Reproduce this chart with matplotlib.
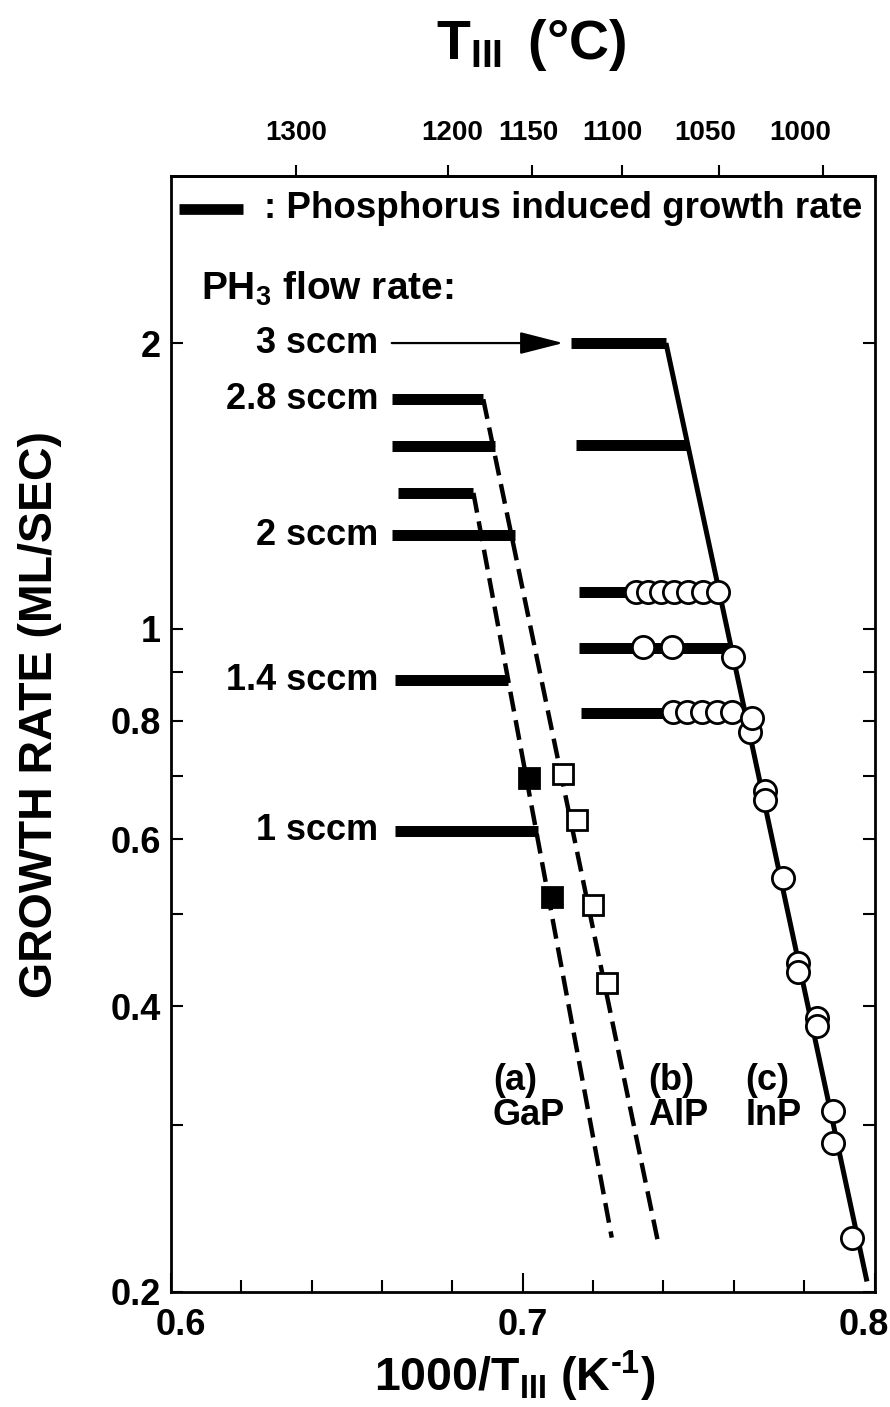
import numpy as np
import matplotlib
matplotlib.use("Agg")
import matplotlib.pyplot as plt
from matplotlib.patches import ArrowStyle
from matplotlib.ticker import NullFormatter, NullLocator
from matplotlib.transforms import ScaledTranslation


# growth rate (ML/s), x = 1000/T_III (1/K)
# phosphorus-limited plateaus, left group (GaP / AlP)
gap_bar_y = [1.39, 0.882, 0.612]
gap_bar_x0 = [0.6647, 0.6638, 0.6638]
gap_bar_x1 = [0.6860, 0.6959, 0.7044]
alp_bar_y = [1.745, 1.559, 1.254]
alp_bar_x0 = [0.6628, 0.6629, 0.6628]
alp_bar_x1 = [0.6888, 0.6921, 0.6978]

# right group (InP)
inp_bar_y = [2.0, 1.56, 1.093, 0.953, 0.814]
inp_bar_x0 = [0.7136, 0.7151, 0.7161, 0.7161, 0.7166]
inp_bar_x1 = [0.7407, 0.7467, 0.7557, 0.7592, 0.7630]

# Arrhenius-type fits
gap_fit_x = [0.6860, 0.7253]
gap_fit_y = [1.39, 0.228]
alp_fit_x = [0.6888, 0.7385]
alp_fit_y = [1.745, 0.225]
inp_fit_x = [0.7407, 0.7978]
inp_fit_y = [2.0, 0.205]

# measured points
gap_x = [0.7019, 0.7082]
gap_y = [0.696, 0.521]
alp_x = [0.7115, 0.7153, 0.7201, 0.7239]
alp_y = [0.702, 0.629, 0.511, 0.423]
inp_x = [0.7322, 0.7357, 0.7393, 0.7431, 0.7470, 0.7511, 0.7556,
         0.7343, 0.7423, 0.7598,
         0.7428, 0.7466, 0.7508, 0.7551, 0.7594, 0.7646, 0.7651,
         0.7688, 0.7688, 0.7740, 0.7783, 0.7783, 0.7835, 0.7835,
         0.7881, 0.7881, 0.7935]
inp_y = [1.093, 1.093, 1.093, 1.093, 1.093, 1.093, 1.093,
         0.957, 0.957, 0.934,
         0.817, 0.817, 0.817, 0.817, 0.817, 0.778, 0.804,
         0.675, 0.659, 0.546, 0.444, 0.435, 0.389, 0.381,
         0.310, 0.287, 0.228]

flow_labels = ["3 sccm", "2.8 sccm", "2 sccm", "1.4 sccm", "1 sccm"]
flow_label_y = [2.0, 1.745, 1.254, 0.882, 0.612]

top_temps = [1300, 1200, 1150, 1100, 1050, 1000]
x_major = [0.6, 0.7, 0.8]
x_minor = [0.62, 0.64, 0.66, 0.68, 0.72, 0.74, 0.76, 0.78]
y_major = [0.2, 0.4, 0.6, 0.8, 1, 2]
y_minor = [0.3, 0.5, 0.7, 0.9]

# hand-set label nudges of the original (points)
top_label_dx = [0, 3, -3, -7, -10, -17]
bottom_label_dx = [7, 0, -8]


def inv_to_celsius(x):
    with np.errstate(divide="ignore", invalid="ignore"):
        return 1000.0 / np.asarray(x, dtype=float) - 273.15


def celsius_to_inv(t):
    with np.errstate(divide="ignore", invalid="ignore"):
        return 1000.0 / (np.asarray(t, dtype=float) + 273.15)


plt.rcParams.update({
    "font.family": ["Liberation Sans", "DejaVu Sans"],
    "font.weight": "bold",
    "axes.labelweight": "bold",
    "mathtext.fontset": "custom",
    "mathtext.rm": "Liberation Sans:bold",
    "mathtext.it": "Liberation Sans:bold",
    "mathtext.bf": "Liberation Sans:bold",
    "mathtext.default": "rm",
    "axes.linewidth": 2.0,
})

fig = plt.figure(figsize=(8.9, 14.07), dpi=100)
ax = fig.add_axes([0.1918, 0.0820, 0.7910, 0.7929])
ax.set_yscale("log")
ax.set_xlim(0.6, 0.8)
ax.set_ylim(0.2, 3.0)

bar_kw = dict(colors="k", linewidth=7.9, capstyle="butt", zorder=3)
ax.hlines(alp_bar_y, alp_bar_x0, alp_bar_x1, **bar_kw)
ax.hlines(gap_bar_y, gap_bar_x0, gap_bar_x1, **bar_kw)
ax.hlines(inp_bar_y, inp_bar_x0, inp_bar_x1, **bar_kw)

dash = (0, (4.5, 2.0))
ax.plot(gap_fit_x, gap_fit_y, color="k", lw=3.2, ls=dash, zorder=2)
ax.plot(alp_fit_x, alp_fit_y, color="k", lw=3.2, ls=dash, zorder=2)
ax.plot(inp_fit_x, inp_fit_y, color="k", lw=3.6, solid_capstyle="butt", zorder=2)

ax.plot(gap_x, gap_y, "s", ms=15, mfc="k", mec="k", mew=2, zorder=4)
ax.plot(alp_x, alp_y, "s", ms=15, mfc="white", mec="k", mew=2, zorder=4)
ax.plot(inp_x, inp_y, "o", ms=16, mfc="white", mec="k", mew=2, zorder=5)

# labels for PH3 flow
ax.text(0.6085, 2.22, "PH$_3$ flow rate:", fontsize=28, va="baseline", ha="left")
for lab, yv in zip(flow_labels, flow_label_y):
    ax.text(0.659, yv, lab, fontsize=26, ha="right", va="center")

ax.annotate("", xy=(0.7115, 2.0), xytext=(0.6628, 2.0),
            arrowprops=dict(arrowstyle=ArrowStyle("-|>", head_length=0.9, head_width=0.23),
                            mutation_scale=30, lw=1.6, color="k",
                            shrinkA=0, shrinkB=0))

ax.text(0.6915, 0.348, "(a)\nGaP", fontsize=26, va="top", ha="left", linespacing=1.0)
ax.text(0.7357, 0.348, "(b)\nAlP", fontsize=26, va="top", ha="left", linespacing=1.0)
ax.text(0.7632, 0.348, "(c)\nInP", fontsize=26, va="top", ha="left", linespacing=1.0)

# key
ax.plot([0.0122, 0.1031], [0.9707, 0.9707], transform=ax.transAxes,
        color="k", lw=7.7, solid_capstyle="butt")
ax.text(0.133, 0.9707, ": Phosphorus induced growth rate", transform=ax.transAxes,
        fontsize=26.5, va="center", ha="left")

# axes and ticks
ax.set_xticks(x_major)
ax.set_xticklabels(["0.6", "0.7", "0.8"])
ax.set_xticks(x_minor, minor=True)
ax.set_yticks(y_major)
ax.set_yticklabels(["0.2", "0.4", "0.6", "0.8", "1", "2"])
ax.set_yticks(y_minor, minor=True)
ax.yaxis.set_minor_formatter(NullFormatter())
ax.xaxis.set_minor_formatter(NullFormatter())

ax.tick_params(axis="both", which="both", direction="in", width=1.5, labelsize=26)
ax.tick_params(axis="x", which="both", top=False, bottom=True, pad=12)
ax.tick_params(axis="x", which="major", length=13.7)
ax.tick_params(axis="x", which="minor", length=8.6)
ax.tick_params(axis="y", which="both", left=True, right=True, length=8.6, pad=7)

secax = ax.secondary_xaxis("top", functions=(inv_to_celsius, celsius_to_inv))
secax.set_xticks(top_temps)
secax.xaxis.set_minor_locator(NullLocator())
secax.tick_params(direction="out", length=8, width=1.5, labeltop=False, labelbottom=False)
for t, dx in zip(top_temps, top_label_dx):
    ax.annotate(str(t), xy=(float(celsius_to_inv(t)), 1.0),
                xycoords=("data", "axes fraction"), xytext=(dx, 31),
                textcoords="offset points", ha="center", va="center", fontsize=20)

ax.set_xlabel("1000/T$_{III}$ (K$^{\\text{-}1}$)", fontsize=33.5)
ax.xaxis.set_label_coords(0.489, -0.0515)
ax.set_ylabel("GROWTH RATE (ML/SEC)", fontsize=33.5)
ax.yaxis.set_label_coords(-0.1544, 0.517)

fig.text(531 / 890, 1 - 45 / 1407, "T$_{III}\\,$ (°C)", fontsize=40, ha="center", va="center")

fig.canvas.draw()
for tick, dx in zip(ax.xaxis.get_major_ticks(), bottom_label_dx):
    lab = tick.label1
    lab.set_transform(lab.get_transform() + ScaledTranslation(dx / 72, 0, fig.dpi_scale_trans))

fig.savefig("out.png", dpi=100)
